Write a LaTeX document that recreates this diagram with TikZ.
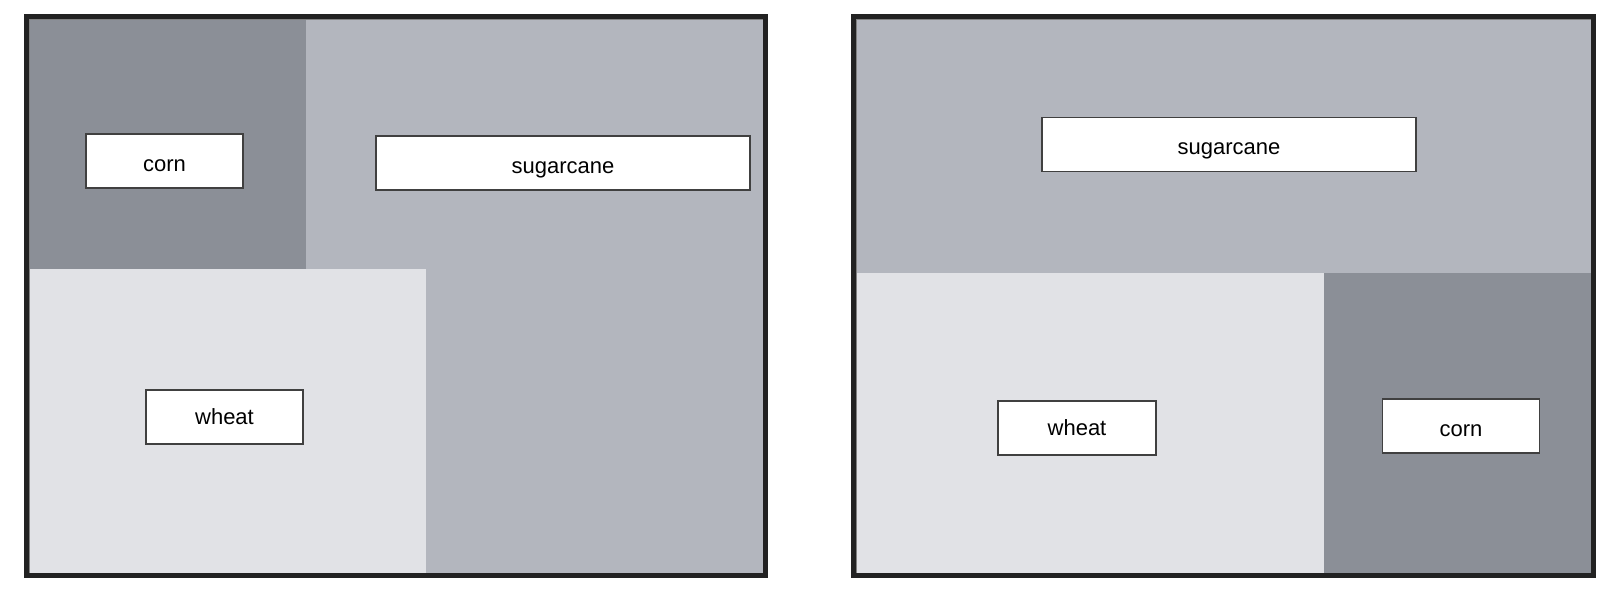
\documentclass[tikz,border=0pt]{standalone}
\usepackage{fontspec}
\setmainfont{Liberation Sans}
\definecolor{cornfill}{HTML}{8B8F97}
\definecolor{canefill}{HTML}{B3B6BE}
\definecolor{wheatfill}{HTML}{E1E2E6}
\definecolor{framecol}{HTML}{222222}
\begin{document}
\begin{tikzpicture}[x=0.5pt, y=-0.5pt,
    field/.style={draw=framecol, line width=2.5pt},
    crop/.style={draw=black!75, line width=0.6pt, fill=white, inner sep=0pt,
        minimum height=27pt, text height=10pt, text depth=0pt,
        font=\fontsize{11}{13}\selectfont}]
\useasboundingbox (0,0) rectangle (1616,594);

% Left field: corn top left, wheat bottom left, sugarcane the rest
\fill[canefill] (29,19) rectangle (763,573);
\fill[cornfill] (29,19) rectangle (306,269);
\fill[wheatfill] (29,269) rectangle (426,573);
\draw[gray, line width=0.4pt] (29,19) rectangle (763,573);
\draw[field] (26.5,16.5) rectangle (765.5,575.5);

\node[crop, minimum width=78.5pt] (cornL) at (164.5,161) {corn};
\node[crop, minimum width=187pt] (caneL) at (563,163) {sugarcane};
\node[crop, minimum width=78.5pt, text height=7pt] (wheatL) at (224.5,417) {wheat};

% Right field: sugarcane on top, wheat and corn below
\fill[canefill] (856,19) rectangle (1591,573);
\fill[wheatfill] (856,273) rectangle (1324,573);
\fill[cornfill] (1324,273) rectangle (1591,573);
\draw[gray, line width=0.4pt] (856,19) rectangle (1591,573);
\draw[field] (853.5,16.5) rectangle (1593.5,575.5);

\node[crop, minimum width=187pt] (caneR) at (1229,144.5) {sugarcane};
\node[crop, minimum width=79pt, text height=7pt] (wheatR) at (1077,428) {wheat};
\node[crop, minimum width=78.5pt] (cornR) at (1461,426) {corn};

\end{tikzpicture}
\end{document}
